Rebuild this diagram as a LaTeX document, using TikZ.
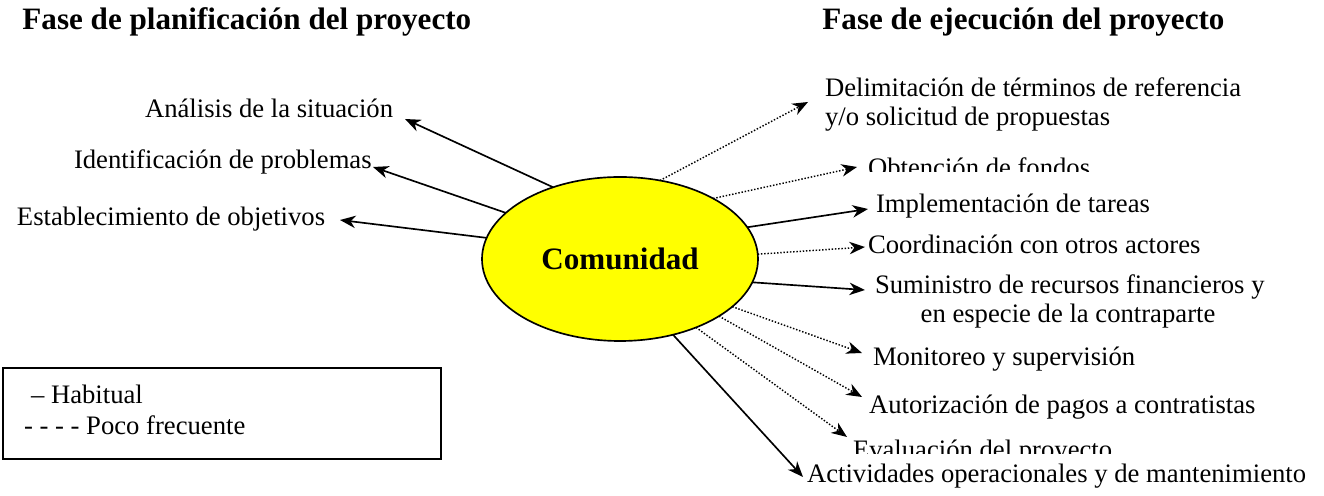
\documentclass[tikz,border=0pt]{standalone}
\usepackage{fontspec}
\setmainfont{Liberation Serif}
\usetikzlibrary{arrows.meta,shapes.geometric}
\definecolor{cyel}{RGB}{255,255,0}
\begin{document}
\begin{tikzpicture}[x=0.45pt,y=-0.45pt,
  lbl/.style={font=\fontsize{12}{13}\selectfont, inner sep=0pt, outer sep=0pt, anchor=base west},
  ctr/.style={font=\fontsize{12}{13}\selectfont, inner sep=0pt, outer sep=0pt, anchor=base},
  ttl/.style={font=\fontsize{14}{16}\selectfont\bfseries, inner sep=0pt, anchor=base west},
  tip/.style={-{Stealth[length=7pt,width=5.6pt,inset=2.2pt]}},
  hab/.style={tip, line width=0.75pt},
  poco/.style={tip, line width=0.65pt, dash pattern=on 0.65pt off 0.8pt},
  blob/.style={ellipse, draw, line width=0.75pt, fill=cyel, minimum width=124.2pt,
    minimum height=73.8pt, inner sep=0pt, outer sep=0pt,
    font=\fontsize{14}{16}\selectfont\bfseries},
  legbox/.style={draw, line width=0.75pt, minimum width=197.1pt, minimum height=40.95pt,
    inner sep=0pt, outer sep=0pt, anchor=north west}
]
\useasboundingbox (0,0) rectangle (1324,496);

% titles
\node[ttl] (tplan) at (22,30) {Fase de planificación del proyecto};
\node[ttl] (tejec) at (822,30) {Fase de ejecución del proyecto};

% centre
\node[blob] (com) at (620,259) {Comunidad};

% left labels
\node[lbl] (l1) at (145,118) {Análisis de la situación};
\node[lbl] (l2) at (74,169) {Identificación de problemas};
\node[lbl] (l3) at (17,226) {Establecimiento de objetivos};

% right labels
\node[lbl] (r1a) at (825,97) {Delimitación de términos de referencia};
\node[lbl] (r1b) at (825,126) {y/o solicitud de propuestas};
\begin{scope}
  \clip (860,150) rectangle (1110,172);
  \node[lbl] (r2) at (868,177) {Obtención de fondos};
\end{scope}
\node[lbl] (r3) at (876,213) {Implementación de tareas};
\node[lbl] (r4) at (868,254) {Coordinación con otros actores};
\node[lbl] (r5a) at (875,294) {Suministro de recursos financieros y};
\node[ctr] (r5b) at (1068,323) {en especie de la contraparte};
\node[lbl] (r6) at (873,366) {Monitoreo y supervisión};
\node[lbl] (r7) at (869,414) {Autorización de pagos a contratistas};
\begin{scope}
  \clip (845,430) rectangle (1130,454);
  \node[lbl] (r8) at (853,459) {Evaluación del proyecto};
\end{scope}
\node[lbl] (r9) at (807,483) {Actividades operacionales y de mantenimiento};

% arrow tips
\coordinate (t1) at (405,119);
\coordinate (t2) at (373,167);
\coordinate (t3) at (340,220);
\coordinate (u1) at (808,102);
\coordinate (u2) at (857,167);
\coordinate (u3) at (868,209);
\coordinate (u4) at (865,247);
\coordinate (u5) at (865,290);
\coordinate (u6) at (862,353);
\coordinate (u7) at (862,397);
\coordinate (u8) at (847,437);
\coordinate (u9) at (803,477);

% connectors
\draw[hab] (com.133) -- (t1);
\draw[hab] (com.158) -- (t2);
\draw[hab] (com.171) -- (t3);
\draw[poco] (com.63) -- (u1);
\draw[poco] (com.33) -- (u2);
\draw[hab] (com.14) -- (u3);
\draw[poco] (com.2.5) -- (u4);
\draw[hab] (com.-10) -- (u5);
\draw[poco] (com.-23) -- (u6);
\draw[poco] (com.-30.5) -- (u7);
\draw[poco] (com.-42) -- (u8);
\draw[hab] (com.-55) -- (u9);

% legend
\node[legbox] (leg) at (3,368) {};
\node[lbl] (k1) at (31,404) {– Habitual};
\node[lbl] (k2) at (24,435) {- - - - Poco frecuente};
\end{tikzpicture}
\end{document}
